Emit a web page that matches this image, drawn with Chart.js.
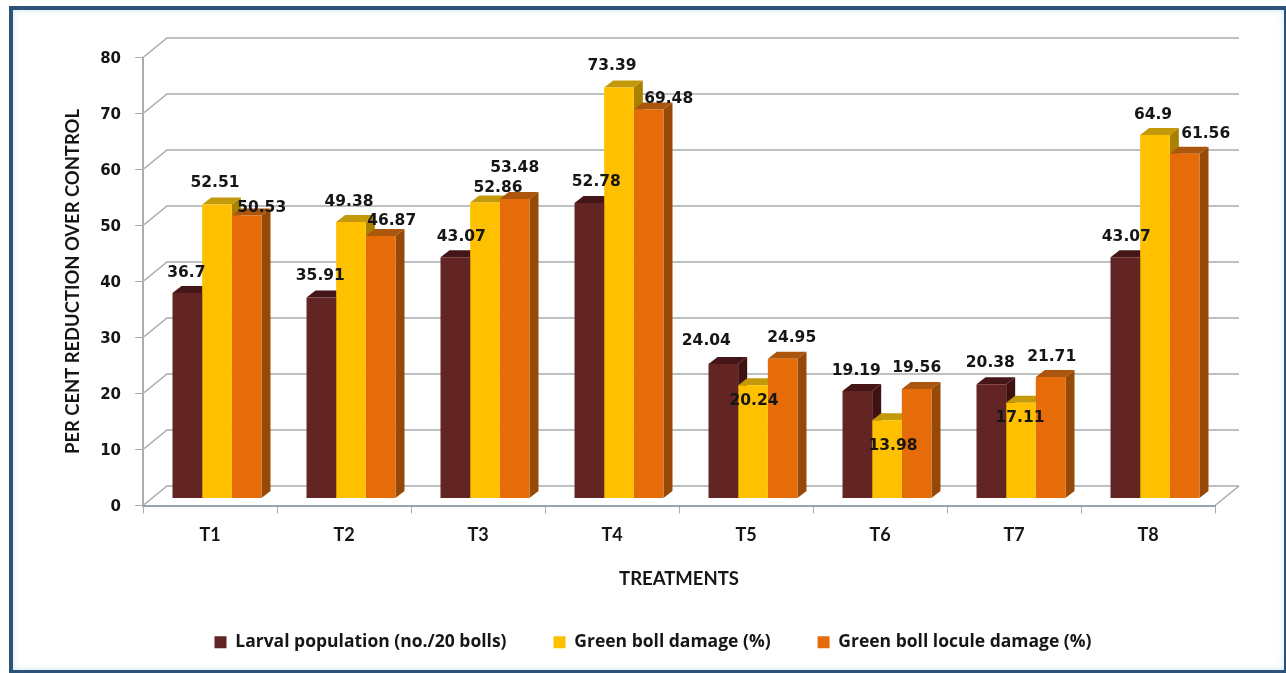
<!DOCTYPE html>
<html>
<head>
<meta charset="utf-8">
<title>Per cent reduction over control</title>
<style>
  html, body { margin: 0; padding: 0; background: #fff; overflow: hidden; }
  #frame {
    position: absolute; left: 9px; top: 6px; width: 1271px; height: 660px;
    border: 4px solid #2d5278;
    box-shadow: inset 0 0 7px #cfe9f4;
  }
  #reduction { position: absolute; left: 0; top: 0; }
</style>
<script src="https://cdn.jsdelivr.net/npm/chart.js@4/dist/chart.umd.min.js"></script>
</head>
<body>
<div id="frame"></div>
<canvas id="reduction" width="1286" height="673"></canvas>
<script>
const treatments = ['T1', 'T2', 'T3', 'T4', 'T5', 'T6', 'T7', 'T8'];

const larvalPopulation = [36.7, 35.91, 43.07, 52.78, 24.04, 19.19, 20.38, 43.07];
const greenBollDamage = [52.51, 49.38, 52.86, 73.39, 20.24, 13.98, 17.11, 64.9];
const loculeDamage = [50.53, 46.87, 53.48, 69.48, 24.95, 19.56, 21.71, 61.56];

// hand placement of the value labels, [dx, dy] from the top centre of each bar
const larvalNudge = [[-1, -20], [-1, -21], [6, -20], [7, -21], [-17, -23], [-1, -20], [-1, -21], [1, -20]];
const damageNudge = [[-2, -21], [-2, -20], [13, -15], [-7, -22], [1, 16], [6, 26], [-1, 15], [-2, -20]];
const loculeNudge = [[15, -8], [11, -15], [0, -31], [20, -10], [9, -21], [0, -21], [1, -20], [21, -20]];

const barFont = 'bold 15.5px "DejaVu Sans"';
const textFamily = 'Lato';

const gridColor = '#a9adad';
const plane = { dx: 7, dy: -7 };    // bars stand a little behind the front axis
const depth = { dx: 9, dy: -7 };    // thickness of each bar
const wall = { dx: 24, dy: -19.5 }; // back wall offset

function polygon(ctx, pts, fill) {
  ctx.beginPath();
  pts.forEach(([x, y], i) => (i ? ctx.lineTo(x, y) : ctx.moveTo(x, y)));
  ctx.closePath();
  ctx.fillStyle = fill;
  ctx.fill();
}

// ---- fake 3D: back wall, floor, bar sides and value labels ----
const depthPlugin = {
  id: 'depthPlugin',
  afterLayout(chart) {
    // legend sits right of the plot centre and a bit above its slot
    chart.legend.left += 15;
    chart.legend.right += 15;
    chart.legend.top -= 6;
    chart.legend.bottom -= 6;
  },
  beforeDatasetsDraw(chart) {
    const { ctx, chartArea, scales: { y } } = chart;
    ctx.save();
    ctx.strokeStyle = gridColor;
    ctx.lineWidth = 1.6;
    y.ticks.forEach(t => {
      const py = y.getPixelForValue(t.value);
      ctx.beginPath();
      ctx.moveTo(chartArea.left, py);
      ctx.lineTo(chartArea.left + wall.dx, py + wall.dy);
      ctx.lineTo(chartArea.right + wall.dx, py + wall.dy);
      ctx.stroke();
    });
    ctx.beginPath();
    ctx.moveTo(chartArea.right, chartArea.bottom);
    ctx.lineTo(chartArea.right + wall.dx, chartArea.bottom + wall.dy);
    ctx.stroke();
    ctx.restore();

    ctx.save();
    ctx.translate(plane.dx, plane.dy);

    // sides and caps go down first, left to right, so the next bar's front hides them
    chart.data.datasets.forEach((ds, i) => {
      chart.getDatasetMeta(i).data.forEach(bar => {
        const half = bar.width / 2;
        const l = bar.x - half, r = bar.x + half, t = bar.y, b = bar.base;
        polygon(ctx, [[l, t], [l + depth.dx, t + depth.dy], [r + depth.dx, t + depth.dy], [r, t]], ds.capColor);
        polygon(ctx, [[r, t], [r + depth.dx, t + depth.dy], [r + depth.dx, b + depth.dy], [r, b]], ds.sideColor);
      });
    });
  },
  afterDatasetsDraw(chart) {
    const { ctx } = chart;
    ctx.restore();

    ctx.save();
    ctx.font = barFont;
    ctx.fillStyle = '#161616';
    ctx.textAlign = 'center';
    ctx.textBaseline = 'middle';
    chart.data.datasets.forEach((ds, i) => {
      chart.getDatasetMeta(i).data.forEach((bar, j) => {
        const [nx, ny] = ds.nudge[j];
        ctx.fillText(String(ds.data[j]), bar.x + plane.dx + nx, bar.y + plane.dy + ny);
      });
    });
    ctx.restore();
  }
};

const sharedBar = { barPercentage: 1, categoryPercentage: 0.664, clip: false, borderWidth: 0 };

new Chart(document.getElementById('reduction'), {
  type: 'bar',
  plugins: [depthPlugin],
  data: {
    labels: treatments,
    datasets: [
      { ...sharedBar, label: 'Larval population (no./20 bolls)', data: larvalPopulation, nudge: larvalNudge,
        backgroundColor: '#632523', capColor: '#451617', sideColor: '#3f1211' },
      { ...sharedBar, label: 'Green boll damage (%)', data: greenBollDamage, nudge: damageNudge,
        backgroundColor: '#ffc000', capColor: '#c49a0a', sideColor: '#a98000' },
      { ...sharedBar, label: 'Green boll locule damage (%)', data: loculeDamage, nudge: loculeNudge,
        backgroundColor: '#e66c0a', capColor: '#ab560c', sideColor: '#974a07' }
    ]
  },
  options: {
    responsive: false,
    animation: false,
    layout: { padding: { left: 61, right: 71, top: 57.5, bottom: 6 } },
    scales: {
      x: {
        afterFit(scale) { scale.height = 87; },
        grid: { drawOnChartArea: false, color: gridColor, tickLength: 8, lineWidth: 1 },
        border: { color: '#9aa3ad', width: 2 },
        ticks: { color: '#161616', padding: 11, font: { family: textFamily, size: 18, weight: 'bold' } },
        title: {
          display: true, text: 'TREATMENTS', color: '#161616', padding: { top: 0, bottom: 2 },
          font: { family: textFamily, size: 18.5, weight: 'bold' }
        }
      },
      y: {
        min: 0,
        max: 80,
        afterFit(scale) { scale.width = 82; },
        grid: { drawOnChartArea: false, color: gridColor, tickLength: 8, lineWidth: 1 },
        border: { color: gridColor, width: 2 },
        ticks: { stepSize: 10, color: '#161616', padding: 14, labelOffset: 1.5, font: { family: 'DejaVu Sans', size: 15, weight: 'bold' } },
        title: {
          display: true, text: 'PER CENT REDUCTION OVER CONTROL', color: '#161616', padding: 1,
          font: { family: textFamily, size: 18.4, weight: 'bold' }
        }
      }
    },
    plugins: {
      tooltip: { enabled: false },
      legend: {
        position: 'bottom',
        labels: {
          boxWidth: 12, boxHeight: 12, padding: 47, color: '#161616',
          font: { family: 'Open Sans', size: 17.5, weight: 'bold' }
        }
      }
    }
  }
});
</script>
</body>
</html>
